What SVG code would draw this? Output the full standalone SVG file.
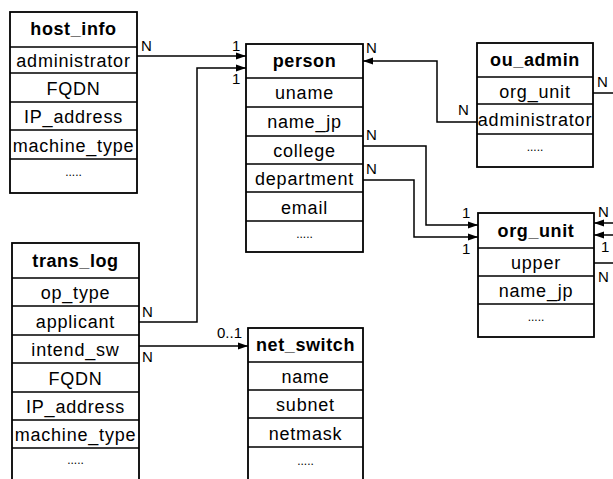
<svg xmlns="http://www.w3.org/2000/svg" width="613" height="479" viewBox="0 0 613 479">
  <defs>
    <marker id="arrow" markerWidth="10" markerHeight="8" refX="10" refY="4" orient="auto" markerUnits="userSpaceOnUse">
      <path d="M0,0.5 L10,4 L0,7.5 z" fill="#000"/>
    </marker>
  </defs>
  <style>
    .box{fill:#fff;stroke:#000;stroke-width:1.8}
    .sep{stroke:#000;stroke-width:1.4}
    .hd{font-family:"Liberation Sans",Arial,sans-serif;font-size:18px;font-weight:bold;text-anchor:middle;letter-spacing:0.6px}
    .fd{font-family:"Liberation Sans",Arial,sans-serif;font-size:18px;text-anchor:middle;letter-spacing:0.8px}
    .dots{font-family:"Liberation Sans",Arial,sans-serif;font-size:12px;text-anchor:middle}
    .lbl{font-family:"Liberation Sans",Arial,sans-serif;font-size:15px}
    .conn{fill:none;stroke:#000;stroke-width:1.5}
  </style>
  <rect width="613" height="479" fill="#fff"/>

  <!-- host_info table -->
  <g id="host_info">
    <rect class="box" x="10" y="12" width="127" height="181"/>
    <path class="sep" d="M10,47 H137 M10,73 H137 M10,102 H137 M10,130 H137 M10,159 H137"/>
    <text class="hd" x="73.5" y="35">host_info</text>
    <text class="fd" x="73.5" y="67">administrator</text>
    <text class="fd" x="73.5" y="95">FQDN</text>
    <text class="fd" x="73.5" y="123">IP_address</text>
    <text class="fd" x="73.5" y="152">machine_type</text>
    <text class="dots" x="73.5" y="176">.....</text>
  </g>

  <!-- person table -->
  <g id="person">
    <rect class="box" x="246" y="44" width="117" height="208"/>
    <path class="sep" d="M246,78 H363 M246,107 H363 M246,136 H363 M246,164 H363 M246,192 H363 M246,221 H363"/>
    <text class="hd" x="304.5" y="67">person</text>
    <text class="fd" x="304.5" y="99">uname</text>
    <text class="fd" x="304.5" y="128">name_jp</text>
    <text class="fd" x="304.5" y="157">college</text>
    <text class="fd" x="304.5" y="185">department</text>
    <text class="fd" x="304.5" y="214">email</text>
    <text class="dots" x="304.5" y="238">.....</text>
  </g>

  <!-- ou_admin table -->
  <g id="ou_admin">
    <rect class="box" x="477" y="43" width="116" height="124"/>
    <path class="sep" d="M477,77 H593 M477,104 H593 M477,134 H593"/>
    <text class="hd" x="535" y="66">ou_admin</text>
    <text class="fd" x="535" y="97.5">org_unit</text>
    <text class="fd" x="535" y="126">administrator</text>
    <text class="dots" x="535" y="151">.....</text>
  </g>

  <!-- org_unit table -->
  <g id="org_unit">
    <rect class="box" x="478" y="213" width="116" height="124"/>
    <path class="sep" d="M478,248 H594 M478,276 H594 M478,304 H594"/>
    <text class="hd" x="536" y="236.5">org_unit</text>
    <text class="fd" x="536" y="269">upper</text>
    <text class="fd" x="536" y="297">name_jp</text>
    <text class="dots" x="536" y="321">.....</text>
  </g>

  <!-- trans_log table -->
  <g id="trans_log">
    <rect class="box" x="12" y="243" width="127" height="245"/>
    <path class="sep" d="M12,278 H139 M12,306 H139 M12,335 H139 M12,363 H139 M12,392 H139 M12,420 H139 M12,448 H139"/>
    <text class="hd" x="75.5" y="266.5">trans_log</text>
    <text class="fd" x="75.5" y="299">op_type</text>
    <text class="fd" x="75.5" y="327.5">applicant</text>
    <text class="fd" x="75.5" y="356">intend_sw</text>
    <text class="fd" x="75.5" y="384.5">FQDN</text>
    <text class="fd" x="75.5" y="413">IP_address</text>
    <text class="fd" x="75.5" y="441">machine_type</text>
    <text class="dots" x="75.5" y="464">.....</text>
  </g>

  <!-- net_switch table -->
  <g id="net_switch">
    <rect class="box" x="248" y="328" width="115" height="160"/>
    <path class="sep" d="M248,362 H363 M248,390 H363 M248,418 H363 M248,447 H363"/>
    <text class="hd" x="305.5" y="351">net_switch</text>
    <text class="fd" x="305.5" y="383">name</text>
    <text class="fd" x="305.5" y="411">subnet</text>
    <text class="fd" x="305.5" y="439.5">netmask</text>
    <text class="dots" x="305.5" y="465">.....</text>
  </g>

  <!-- relationships -->
  <g id="connectors">
    <path class="conn" d="M137,56 H246" marker-end="url(#arrow)"/>
    <path class="conn" d="M139,322 H197 V68 H246" marker-end="url(#arrow)"/>
    <path class="conn" d="M139,346 H248" marker-end="url(#arrow)"/>
    <path class="conn" d="M477,122 H437 V61 H363" marker-end="url(#arrow)"/>
    <path class="conn" d="M363,146 H426 V225 H478" marker-end="url(#arrow)"/>
    <path class="conn" d="M363,180 H414 V237 H478" marker-end="url(#arrow)"/>
    <path class="conn" d="M593,93 H613"/>
    <path class="conn" d="M613,223 H594" marker-end="url(#arrow)"/>
    <path class="conn" d="M613,235 H594" marker-end="url(#arrow)"/>
    <path class="conn" d="M594,263 H613"/>

    <!-- multiplicities -->
    <text class="lbl" x="141" y="51">N</text>
    <text class="lbl" x="232" y="51">1</text>
    <text class="lbl" x="232" y="84">1</text>
    <text class="lbl" x="142" y="317">N</text>
    <text class="lbl" x="142" y="362">N</text>
    <text class="lbl" x="217" y="338">0..1</text>
    <text class="lbl" x="366" y="53">N</text>
    <text class="lbl" x="458" y="115">N</text>
    <text class="lbl" x="366" y="140">N</text>
    <text class="lbl" x="366" y="174">N</text>
    <text class="lbl" x="462" y="218">1</text>
    <text class="lbl" x="462" y="254">1</text>
    <text class="lbl" x="597" y="87">N</text>
    <text class="lbl" x="598" y="217">N</text>
    <text class="lbl" x="601" y="252">1</text>
    <text class="lbl" x="598" y="282">N</text>
  </g>
</svg>
